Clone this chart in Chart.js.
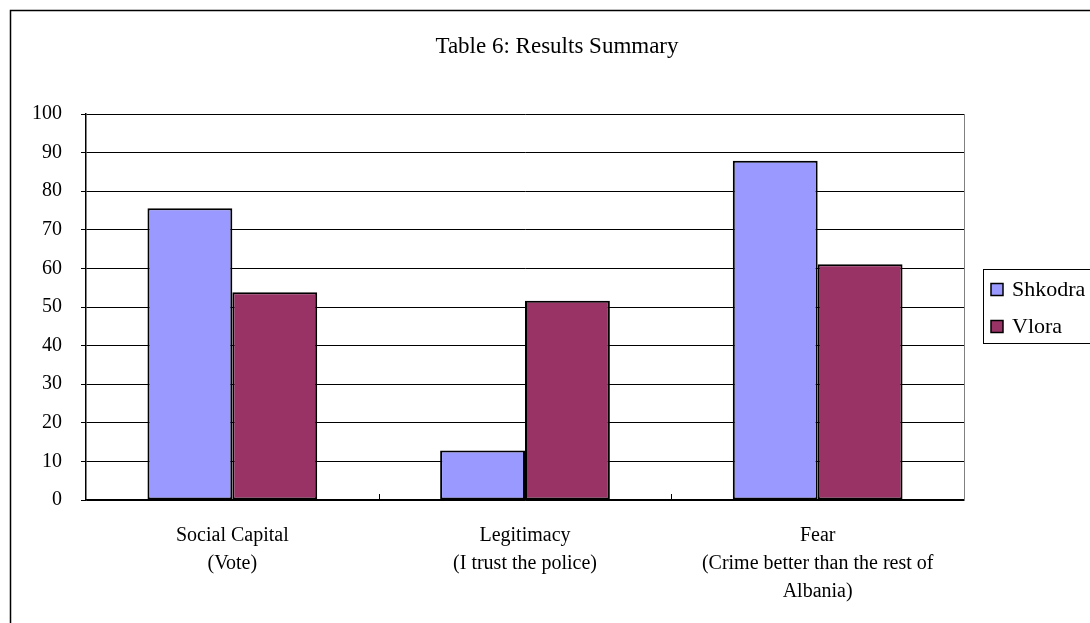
<!DOCTYPE html>
<html>
<head>
<meta charset="utf-8">
<script src="https://cdn.jsdelivr.net/npm/chart.js@4/dist/chart.umd.min.js"></script>
<style>
  html, body { margin: 0; padding: 0; background: #fff; }
  #wrap { width: 1090px; height: 623px; position: relative; }
</style>
</head>
<body>
<div id="wrap"><canvas id="chart"></canvas></div>
<script>
// values
const chartTitle = 'Table 6: Results Summary';
const categories = [
  ['Social Capital', '(Vote)'],
  ['Legitimacy', '(I trust the police)'],
  ['Fear', '(Crime better than the rest of', 'Albania)']
];
const seriesNames = ['Shkodra', 'Vlora'];
const shkodraValues = [75.6, 12.8, 87.9];
const vloraValues = [53.8, 51.6, 61.1];
const yTicks = [0, 10, 20, 30, 40, 50, 60, 70, 80, 90, 100];

const serif = '"Liberation Serif", "Times New Roman", serif';

// frame, title, legend, and the little x tick marks between categories
const decorations = {
  id: 'decorations',
  afterDraw(chart) {
    const ctx = chart.ctx;
    const area = chart.chartArea;
    ctx.save();

    // outer frame (runs off the right and bottom edges like the reference)
    ctx.strokeStyle = '#000';
    ctx.lineWidth = 1.5;
    ctx.strokeRect(10.5, 10.5, 1200, 700);

    // right border of plot area
    ctx.strokeStyle = '#808080';
    ctx.lineWidth = 1;
    ctx.beginPath();
    ctx.moveTo(area.right + 0.5, area.top);
    ctx.lineTo(area.right + 0.5, area.bottom);
    ctx.stroke();

    // x tick marks between categories, pointing up
    const xs = chart.scales.x;
    ctx.strokeStyle = '#000';
    for (let i = 1; i < categories.length; i++) {
      const px = Math.round((xs.getPixelForValue(i - 1) + xs.getPixelForValue(i)) / 2) + 0.5;
      ctx.beginPath();
      ctx.moveTo(px, area.bottom);
      ctx.lineTo(px, area.bottom - 6);
      ctx.stroke();
    }

    // title
    ctx.fillStyle = '#000';
    ctx.font = '23px ' + serif;
    ctx.textAlign = 'center';
    ctx.textBaseline = 'middle';
    ctx.fillText(chartTitle, 557, 47);

    // legend box
    const lx = 983, ly = 269, lw = 130, lh = 74;
    ctx.strokeStyle = '#000';
    ctx.lineWidth = 1;
    ctx.strokeRect(lx + 0.5, ly + 0.5, lw, lh);
    ctx.font = '22px ' + serif;
    ctx.textAlign = 'left';
    chart.data.datasets.forEach((ds, i) => {
      const cy = ly + 20.5 + i * 37;
      ctx.fillStyle = ds.backgroundColor;
      ctx.fillRect(lx + 8, cy - 6, 12, 12);
      ctx.strokeStyle = '#000';
      ctx.lineWidth = 1.5;
      ctx.strokeRect(lx + 8, cy - 6, 12, 12);
      ctx.fillStyle = '#000';
      ctx.fillText(ds.label, lx + 29, cy + 1);
    });

    ctx.restore();
  }
};

new Chart(document.getElementById('chart'), {
  type: 'bar',
  data: {
    labels: categories,
    datasets: [{
      label: seriesNames[0],
      data: shkodraValues,
      backgroundColor: '#9999FF',
      borderColor: '#000',
      borderWidth: 2,
      borderSkipped: false,
      categoryPercentage: 0.58,
      barPercentage: 1.0
    }, {
      label: seriesNames[1],
      data: vloraValues,
      backgroundColor: '#993366',
      borderColor: '#000',
      borderWidth: 2,
      borderSkipped: false,
      categoryPercentage: 0.58,
      barPercentage: 1.0
    }]
  },
  options: {
    responsive: true,
    maintainAspectRatio: false,
    animation: false,
    layout: { padding: { left: 0, right: 126, top: 114, bottom: 0 } },
    plugins: {
      legend: { display: false },
      title: { display: false },
      tooltip: { enabled: false }
    },
    scales: {
      x: {
        grid: { display: false, drawTicks: false, tickLength: 0 },
        border: { display: true, color: '#000', width: 1.5 },
        ticks: {
          color: '#000',
          font: { family: serif, size: 20, lineHeight: 1.4 },
          padding: 22,
          maxRotation: 0,
          autoSkip: false
        },
        afterFit(scale) { scale.height = 123; }
      },
      y: {
        min: 0,
        max: 100,
        afterBuildTicks(scale) { scale.ticks = yTicks.map(v => ({ value: v })); },
        grid: { color: '#000', lineWidth: 1, drawTicks: true, tickLength: 5 },
        border: { display: true, color: '#000', width: 1.5 },
        ticks: {
          color: '#000',
          font: { family: serif, size: 20 },
          padding: 19
        },
        afterFit(scale) { scale.width = 86; }
      }
    }
  },
  plugins: [decorations]
});
</script>
</body>
</html>
